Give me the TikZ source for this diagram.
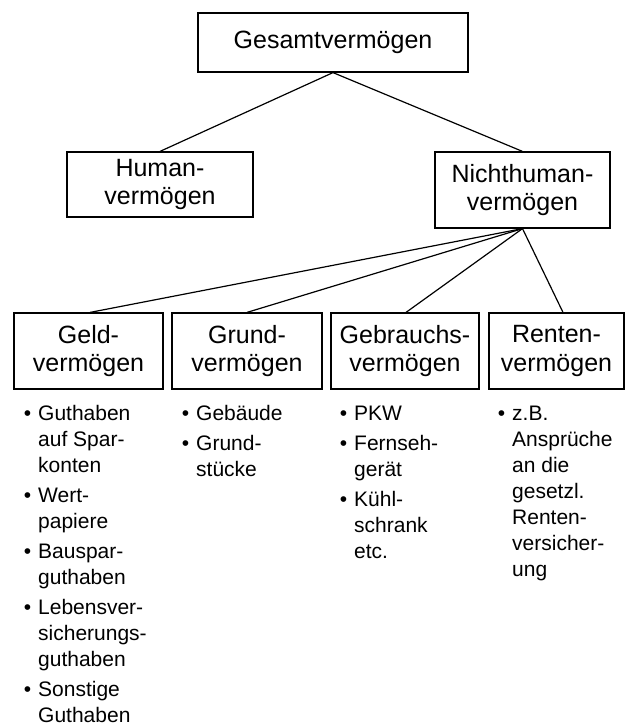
\documentclass[tikz,border=0pt]{standalone}
\usepackage{fontspec}
\setmainfont{Liberation Sans}
\newcommand{\blt}{\llap{\textbullet\hspace{7pt}}}
\newcommand{\firstln}{\rule{0pt}{16pt}}
\begin{document}
\begin{tikzpicture}[x=1pt,y=-1pt,
  box/.style={draw,line width=1.2pt,inner sep=0pt,align=center,
    font=\fontsize{25}{28.5}\selectfont},
  list/.style={anchor=north west,inner sep=0pt,align=left,
    font=\fontsize{21}{26}\selectfont},
  link/.style={line width=1.2pt}]
\useasboundingbox (0,0) rectangle (626,726);
% boxes
\node[box,minimum width=270pt,minimum height=59pt] (gesamt) at (333,42.5) {Gesamtvermögen};
\node[box,minimum width=186pt,minimum height=65pt] (human) at (160,184.5) {Human-\\vermögen};
\node[box,minimum width=175pt,minimum height=76pt] (nicht) at (522.5,190) {Nichthuman-\\vermögen};
\node[box,minimum width=149pt,minimum height=76pt] (geld) at (88.5,351) {Geld-\\vermögen};
\node[box,minimum width=150pt,minimum height=76pt] (grund) at (247,351) {Grund-\\vermögen};
\node[box,minimum width=148pt,minimum height=76pt] (gebrauch) at (405,351) {Gebrauchs-\\vermögen};
\node[box,minimum width=135pt,minimum height=76pt] (renten) at (556.5,351) {Renten-\\vermögen};
% lines
\draw[link] (gesamt.south) -- (human.north);
\draw[link] (gesamt.south) -- (nicht.north);
\draw[link] (nicht.south) -- ([xshift=1.5pt]geld.north);
\draw[link] (nicht.south) -- (grund.north);
\draw[link] (nicht.south) -- ([xshift=1pt]gebrauch.north);
\draw[link] (nicht.south) -- ([xshift=6.5pt]renten.north);
% lists
\node[list] (geldlist) at (38,404) {\firstln\blt Guthaben\\auf Spar-\\konten\\[4pt]
  \blt Wert-\\papiere\\[4pt]
  \blt Bauspar-\\guthaben\\[4pt]
  \blt Lebensver-\\sicherungs-\\guthaben\\[4pt]
  \blt Sonstige\\Guthaben};
\node[list] (grundlist) at (196,404) {\firstln\blt Gebäude\\[4pt]
  \blt Grund-\\stücke};
\node[list] (gebrauchlist) at (354,404) {\firstln\blt PKW\\[4pt]
  \blt Fernseh-\\gerät\\[4pt]
  \blt Kühl-\\schrank\\etc.};
\node[list] (rentenlist) at (512,404) {\firstln\blt z.B.\\Ansprüche\\an die\\gesetzl.\\Renten-\\versicher-\\ung};
\end{tikzpicture}
\end{document}
